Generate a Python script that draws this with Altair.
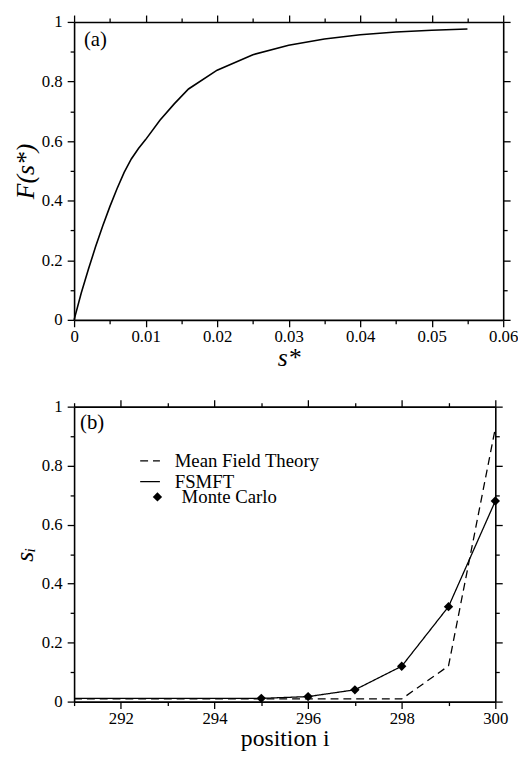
import altair as alt
import pandas as pd

FONT = "Liberation Serif"

# ---------------- Panel (a) data ----------------
s_star = [0, 0.001, 0.002, 0.003, 0.004, 0.005, 0.006, 0.007, 0.008, 0.009,
          0.010, 0.012, 0.014, 0.016, 0.020, 0.025, 0.030, 0.035, 0.040,
          0.045, 0.050, 0.055]
F_s = [0, 0.09, 0.17, 0.245, 0.315, 0.38, 0.44, 0.495, 0.54, 0.575,
       0.605, 0.67, 0.725, 0.775, 0.838, 0.89, 0.922, 0.943, 0.957,
       0.966, 0.972, 0.976]

a_x_major = [0, 0.01, 0.02, 0.03, 0.04, 0.05, 0.06]
a_x_minor = [0.005, 0.015, 0.025, 0.035, 0.045, 0.055]
y_major = [0, 0.2, 0.4, 0.6, 0.8, 1]
y_minor = [0.1, 0.3, 0.5, 0.7, 0.9]

# ---------------- Panel (b) data ----------------
positions = [291, 292, 293, 294, 295, 296, 297, 298, 299, 300]
mean_field = [0.009, 0.009, 0.009, 0.009, 0.009, 0.009, 0.009, 0.009, 0.121, 0.927]
fsmft = [0.011, 0.011, 0.011, 0.011, 0.011, 0.017, 0.04, 0.12, 0.322, 0.68]
mc_positions = [295, 296, 297, 298, 299, 300]
monte_carlo = [0.011, 0.017, 0.04, 0.12, 0.322, 0.68]

b_x_major = [292, 294, 296, 298, 300]
b_x_minor = [291, 293, 295, 297, 299]

series_names = ["Mean Field Theory", "FSMFT", "Monte Carlo"]

df_a = pd.DataFrame({"s": s_star, "F": F_s})
df_lines = pd.DataFrame({
    "pos": positions + positions,
    "val": mean_field + fsmft,
    "series": [series_names[0]] * len(positions) + [series_names[1]] * len(positions),
})
df_mc = pd.DataFrame({"pos": mc_positions, "val": monte_carlo,
                      "series": [series_names[2]] * len(mc_positions)})
one_row = pd.DataFrame({"k": [0]})

MAJOR = 7
MINOR = 4


def ax(orient, values, size, labels=False, domain=True, title=None,
       label_pad=3, title_pad=4, title_style="italic", title_size=24):
    kw = dict(orient=orient, values=values, tickSize=size, labels=labels,
              domain=domain, grid=False, ticks=True, tickColor="black",
              domainColor="black", tickWidth=1.3, domainWidth=1.6, title=title)
    if labels:
        kw.update(labelFont=FONT, labelFontSize=17, labelColor="black",
                  labelFlush=False, labelPadding=label_pad, format="~g",
                  labelOverlap=False)
    if title is not None:
        kw.update(titleFont=FONT, titleFontSize=title_size, titleFontStyle=title_style,
                  titleFontWeight="normal", titleColor="black", titlePadding=title_pad)
    return alt.Axis(**kw)


def framed(main_layers, data, xf, yf, xscale, yscale, xmaj, xmin, ymaj, ymin,
           xtitle, ytitle, xtitle_style, xtitle_size, ytitle_size, ytitle_pad):
    first = main_layers[0]
    rest = main_layers[1:]
    xa = ax("bottom", xmaj, MAJOR, labels=True, title=xtitle, label_pad=2,
            title_pad=0, title_style=xtitle_style, title_size=xtitle_size)
    ya = ax("left", ymaj, MAJOR, labels=True, title=ytitle, label_pad=5,
            title_pad=ytitle_pad, title_size=ytitle_size)
    l1 = first.encode(x=alt.X(xf, scale=xscale, axis=xa),
                      y=alt.Y(yf, scale=yscale, axis=ya))
    inv = alt.Chart(data).mark_line(strokeOpacity=0)
    l2 = inv.encode(x=alt.X(xf, scale=xscale, axis=ax("top", xmaj, MAJOR)),
                    y=alt.Y(yf, scale=yscale, axis=ax("right", ymaj, MAJOR)))
    l3 = inv.encode(x=alt.X(xf, scale=xscale, axis=ax("bottom", xmin, MINOR, domain=False)),
                    y=alt.Y(yf, scale=yscale, axis=ax("left", ymin, MINOR, domain=False)))
    l4 = inv.encode(x=alt.X(xf, scale=xscale, axis=ax("top", xmin, MINOR, domain=False)),
                    y=alt.Y(yf, scale=yscale, axis=ax("right", ymin, MINOR, domain=False)))
    return [l1, l2, l3, l4] + rest


# ---------------- Panel (a) ----------------
xs_a = alt.Scale(domain=[0, 0.06], nice=False, zero=False)
ys_a = alt.Scale(domain=[0, 1], nice=False, zero=False)

curve_a = alt.Chart(df_a).mark_line(color="black", strokeWidth=1.6)
label_a = alt.Chart(one_row).mark_text(
    text="(a)", font=FONT, fontSize=21, align="left", baseline="top", color="black"
).encode(x=alt.value(10), y=alt.value(7))

layers_a = framed([curve_a, label_a], df_a, "s:Q", "F:Q", xs_a, ys_a,
                  a_x_major, a_x_minor, y_major, y_minor, "s*", "F(s*)",
                  "italic", 26, 26, 3)
panel_a = alt.layer(*layers_a).resolve_axis(x="independent", y="independent").properties(
    width=435, height=302)

# ---------------- Panel (b) ----------------
xs_b = alt.Scale(domain=[291, 300], nice=False, zero=False)
ys_b = alt.Scale(domain=[0, 1], nice=False, zero=False)

lines_b = alt.Chart(df_lines).mark_line(color="black", strokeWidth=1.3).encode(
    strokeDash=alt.StrokeDash(
        "series:N",
        scale=alt.Scale(domain=series_names[:2], range=[[8, 5], [1, 0]]),
        legend=alt.Legend(orient="none", legendX=66, legendY=44, title=None,
                          labelFont=FONT, labelFontSize=19, labelColor="black",
                          symbolSize=400, symbolStrokeWidth=1.3,
                          symbolStrokeColor="black", labelOffset=14,
                          rowPadding=-1, padding=0),
    )
)
points_b = alt.Chart(df_mc).mark_point(filled=True, color="black", size=90, opacity=1).encode(
    x=alt.X("pos:Q", scale=xs_b, axis=None),
    y=alt.Y("val:Q", scale=ys_b, axis=None),
    shape=alt.Shape(
        "series:N",
        scale=alt.Scale(domain=series_names[2:], range=["diamond"]),
        legend=alt.Legend(orient="none", legendX=75, legendY=82, title=None,
                          labelFont=FONT, labelFontSize=19, labelColor="black",
                          symbolSize=90, symbolFillColor="black",
                          symbolStrokeColor="black", symbolStrokeWidth=0,
                          labelOffset=15, rowPadding=0, padding=0),
    ),
)
label_b = alt.Chart(one_row).mark_text(
    text="(b)", font=FONT, fontSize=21, align="left", baseline="top", color="black"
).encode(x=alt.value(6), y=alt.value(6))

layers_b = framed([lines_b, points_b, label_b], df_lines, "pos:Q", "val:Q", xs_b, ys_b,
                  b_x_major, b_x_minor, y_major, y_minor, "position i", "sᵢ",
                  "normal", 24, 26, 4)
panel_b = alt.layer(*layers_b).resolve_axis(x="independent", y="independent").properties(
    width=427, height=299)

chart = alt.vconcat(panel_a, panel_b, spacing=28).resolve_legend(
    strokeDash="independent", shape="independent"
).properties(
    padding={"left": 3, "top": 0, "right": 0, "bottom": 0}
).configure_view(
    strokeWidth=0
).configure_axis(
    labelFont=FONT, titleFont=FONT
).configure_legend(
    labelFont=FONT
)

chart.save("out.html", embed_options={"renderer": "svg", "actions": False})
